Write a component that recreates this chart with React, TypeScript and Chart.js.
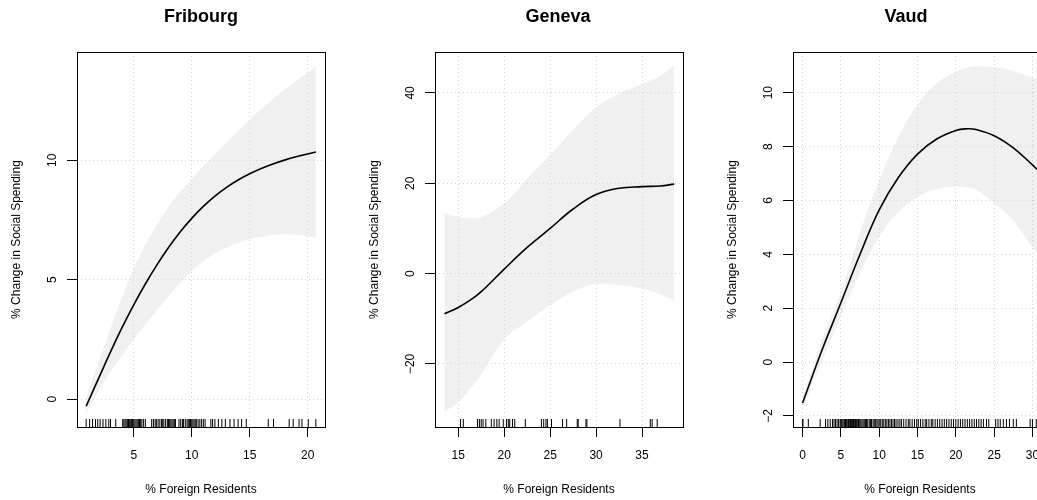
import React, { useEffect, useRef } from 'react';
import { Chart, registerables } from 'chart.js';

Chart.register(...registerables);
Chart.defaults.font.family = "'Liberation Sans', Arial, Helvetica, sans-serif";

// ---------------- Fribourg ----------------
const fribourgX = [0.9, 2, 3, 4, 5, 6, 7, 8, 9, 10, 11, 12, 13, 14, 15, 16, 17, 18, 19, 20, 20.7];
const fribourgFit = [-0.3, 0.9, 1.98, 3.0, 3.95, 4.82, 5.62, 6.35, 7.0, 7.57, 8.07, 8.5, 8.87, 9.18, 9.44, 9.66, 9.85, 10.01, 10.15, 10.27, 10.35];
const fribourgUpper = [0.0, 1.6, 2.95, 4.25, 5.45, 6.45, 7.3, 8.05, 8.67, 9.22, 9.75, 10.25, 10.75, 11.23, 11.7, 12.15, 12.57, 12.97, 13.33, 13.67, 13.95];
const fribourgLower = [-0.6, 0.35, 1.15, 1.85, 2.5, 3.12, 3.72, 4.3, 4.85, 5.35, 5.77, 6.1, 6.35, 6.55, 6.7, 6.8, 6.87, 6.9, 6.88, 6.82, 6.75];
const fribourgRug = [
  0.9, 1.2, 1.45, 1.7, 1.9, 2.1, 2.35, 2.6, 2.85, 3.0, 3.45,
  4.05, 4.15, 4.25, 4.35, 4.45, 4.55, 4.62, 4.7, 4.8, 4.9, 5.0, 5.1, 5.2, 5.3, 5.4, 5.5, 5.6, 5.7, 5.85, 6.0,
  6.55, 6.7, 6.85, 6.95, 7.1, 7.25, 7.4, 7.5, 7.6, 7.75, 7.9, 8.0, 8.1, 8.2, 8.3, 8.4, 8.5, 8.6,
  8.9, 9.05, 9.2, 9.3, 9.45, 9.6, 9.7, 9.8, 9.9, 10.0, 10.1, 10.2, 10.3, 10.4, 10.55, 10.7, 10.85, 11.0, 11.15,
  11.65, 11.8, 12.0, 12.3, 12.6, 12.9, 13.3,
  13.65, 14.0, 14.3, 14.7,
  16.6, 17.05, 18.4, 18.75, 19.25, 19.5, 20.05, 20.7,
];
const fribourgXTicks = [5, 10, 15, 20];
const fribourgYTicks = [0, 5, 10];

// ---------------- Geneva ----------------
const genevaX = [13.5, 15, 16.5, 17.5, 20, 22.5, 25, 27.5, 30, 32.5, 35, 37, 38.5];
const genevaFit = [-8.9, -7.5, -5.6, -4.0, 1.0, 5.8, 10.0, 14.3, 17.5, 18.9, 19.25, 19.4, 19.8];
const genevaUpper = [13.3, 12.6, 12.2, 12.5, 15.5, 21.0, 26.3, 31.8, 36.8, 39.8, 42.0, 43.8, 46.0];
const genevaLower = [-30.6, -28.5, -25.0, -22.3, -14.6, -10.6, -7.0, -4.0, -2.3, -2.5, -3.3, -4.6, -5.9];
const genevaRug = [
  15.25, 15.55, 17.1, 17.3, 17.5, 17.7, 18.0, 18.6, 18.9, 19.2, 19.45, 19.9, 20.25, 20.45, 20.6, 20.9, 21.15,
  22.3, 24.05, 24.3, 24.55, 24.7, 25.15, 26.35, 26.8, 27.95, 28.05, 28.9, 29.0, 32.6, 35.9, 36.1, 36.65,
];
const genevaXTicks = [15, 20, 25, 30, 35];
const genevaYTicks = [-20, 0, 20, 40];

// ---------------- Vaud ----------------
const vaudX = [0, 2.5, 5, 7.5, 10, 12.5, 15, 17.5, 20, 21.5, 22.5, 25, 27.5, 30, 30.6];
const vaudFit = [-1.52, 0.42, 2.2, 4.0, 5.65, 6.85, 7.72, 8.28, 8.6, 8.66, 8.64, 8.4, 7.95, 7.32, 7.15];
const vaudUpper = [-1.36, 0.8, 2.6, 4.8, 6.75, 8.35, 9.55, 10.35, 10.78, 10.92, 10.97, 10.95, 10.8, 10.55, 10.48];
const vaudLower = [-1.75, 0.0, 1.7, 3.3, 4.65, 5.58, 6.12, 6.42, 6.52, 6.48, 6.42, 5.9, 5.25, 4.25, 4.02];
const vaudRug = [
  0, 0.05, 0.75, 2.3, 3.0, 3.3, 3.6, 3.9, 4.1, 4.3, 4.5, 4.7, 4.9, 5.0, 5.1, 5.25, 5.4, 5.5, 5.6, 5.75, 5.9,
  6.0, 6.1, 6.25, 6.4, 6.5, 6.65, 6.8, 6.9, 7.05, 7.2, 7.3, 7.45, 7.6, 7.75, 7.9, 8.05, 8.2, 8.35, 8.5, 8.7,
  8.85, 9.0, 9.2, 9.35, 9.5, 9.7, 9.85, 10.0, 10.2, 10.4, 10.6, 10.8, 11.0, 11.2, 11.4, 11.6, 11.8, 12.0, 12.2,
  12.45, 12.7, 12.9, 13.2, 13.5, 13.8, 14.0, 14.3, 14.6, 14.9, 15.1, 15.4, 15.7, 16.0, 16.2, 16.5, 16.8, 17.0,
  17.3, 17.6, 17.9, 18.2, 18.5, 18.8, 19.1, 19.4, 19.7, 20.0, 20.3, 20.6, 20.9, 21.2, 21.5, 21.8, 22.1, 22.4,
  22.7, 23.0, 23.3, 23.6, 24.0, 24.3, 25.2, 25.5, 25.8, 26.2, 26.6, 27.0, 27.5, 27.9, 29.7, 30.0, 30.5,
];
const vaudXTicks = [0, 5, 10, 15, 20, 25, 30];
const vaudYTicks = [-2, 0, 2, 4, 6, 8, 10];

const X_TITLE = '% Foreign Residents';
const Y_TITLE = '% Change in Social Spending';
const BAND = '#f0f0f0';
const GRID = '#d3d3d3';

type Panel = {
  title: string;
  xs: number[];
  fit: number[];
  upper: number[];
  lower: number[];
  rug: number[];
  xTicks: number[];
  yTicks: number[];
  xMin: number;
  xMax: number;
  yMin: number;
  yMax: number;
  canvasX: number;
  canvasW: number;
  rightW: number;
  yPad: number;
};

const panels: Panel[] = [
  {
    title: 'Fribourg', xs: fribourgX, fit: fribourgFit, upper: fribourgUpper, lower: fribourgLower, rug: fribourgRug,
    xTicks: fribourgXTicks, yTicks: fribourgYTicks, xMin: 0.11, xMax: 21.49, yMin: -1.17, yMax: 14.54,
    canvasX: 0, canvasW: 402, rightW: 77, yPad: 8.0,
  },
  {
    title: 'Geneva', xs: genevaX, fit: genevaFit, upper: genevaUpper, lower: genevaLower, rug: genevaRug,
    xTicks: genevaXTicks, yTicks: genevaYTicks, xMin: 12.47, xMax: 39.46, yMin: -33.96, yMax: 49.06,
    canvasX: 358, canvasW: 400, rightW: 75, yPad: 4.6,
  },
  {
    title: 'Vaud', xs: vaudX, fit: vaudFit, upper: vaudUpper, lower: vaudLower, rug: vaudRug,
    xTicks: vaudXTicks, yTicks: vaudYTicks, xMin: -1.25, xMax: 31.9, yMin: -2.41, yMax: 11.51,
    canvasX: 716, canvasW: 380, rightW: 49, yPad: 7.9,
  },
];

const fmt = (v: number | string) => {
  const n = Number(v);
  return n < 0 ? '\u2212' + Math.abs(n) : String(n);
};

const boxPlugin = {
  id: 'rBox',
  afterDraw(chart: any) {
    const { ctx, chartArea: a } = chart;
    ctx.save();
    ctx.strokeStyle = '#000';
    ctx.lineWidth = 1;
    ctx.strokeRect(Math.round(a.left) + 0.5, Math.round(a.top) + 0.5, Math.round(a.right - a.left), Math.round(a.bottom - a.top));
    ctx.restore();
  },
};

function makeChart(canvas: HTMLCanvasElement, p: Panel) {
  const pts = (ys: number[]) => p.xs.map((x, i) => ({ x, y: ys[i] }));
  const tickFont = { size: 12 };
  const gridOpts = { color: GRID, lineWidth: 1, tickColor: '#000', tickLength: 10, tickWidth: 1, tickBorderDash: [] as number[] };
  return new Chart(canvas, {
    type: 'line',
    data: {
      datasets: [
        { data: pts(p.upper), borderWidth: 0, pointRadius: 0, fill: '+1', backgroundColor: BAND, tension: 0.4 },
        { data: pts(p.lower), borderWidth: 0, pointRadius: 0, fill: false, tension: 0.4 },
        { data: pts(p.fit), borderColor: '#000', borderWidth: 1.6, pointRadius: 0, fill: false, tension: 0.4 },
        {
          data: p.rug.map((x) => ({ x, y: p.yMin })),
          showLine: false, pointStyle: 'line', pointRotation: 90, pointRadius: 8,
          pointBorderWidth: 1, pointBorderColor: '#000', borderColor: '#000', clip: 0,
        },
      ] as any,
    },
    options: {
      responsive: false,
      animation: false,
      devicePixelRatio: 1,
      events: [],
      layout: { padding: 0 },
      plugins: {
        legend: { display: false },
        tooltip: { enabled: false },
        filler: { drawTime: 'beforeDraw' },
        title: {
          display: true, text: p.title, color: '#000',
          font: { size: 18, weight: 'bold' }, padding: { top: 6.2, bottom: 24.2 },
        },
      } as any,
      scales: {
        x: {
          type: 'linear', min: p.xMin, max: p.xMax,
          afterBuildTicks: (s: any) => { s.ticks = p.xTicks.map((value) => ({ value })); },
          afterFit: (s: any) => { s.height = 73; },
          grid: gridOpts,
          border: { display: false, dash: [1, 3] },
          ticks: { padding: 11.5, color: '#000', font: tickFont, maxRotation: 0, minRotation: 0, autoSkip: false, callback: fmt },
          title: { display: true, text: X_TITLE, color: '#000', font: { size: 12 }, padding: { top: 0, bottom: 2.8 } },
        },
        y: {
          type: 'linear', min: p.yMin, max: p.yMax,
          afterBuildTicks: (s: any) => { s.ticks = p.yTicks.map((value) => ({ value })); },
          afterFit: (s: any) => { s.width = 77; },
          grid: gridOpts,
          border: { display: false, dash: [1, 3] },
          ticks: { padding: p.yPad, color: '#000', font: tickFont, minRotation: 90, maxRotation: 90, crossAlign: 'center', autoSkip: false, callback: fmt },
          title: { display: true, text: Y_TITLE, color: '#000', font: { size: 12 }, padding: { top: 9.5, bottom: 0 } },
        },
        // empty right margin (R's right plot margin), keeps the title centred over the plot box
        yr: {
          type: 'linear', position: 'right', display: true,
          afterFit: (s: any) => { s.width = p.rightW; },
          grid: { display: false, drawTicks: false },
          border: { display: false },
          ticks: { display: false },
        },
      } as any,
    },
    plugins: [boxPlugin],
  });
}

function PanelChart({ panel }: { panel: Panel }) {
  const ref = useRef<HTMLCanvasElement>(null);
  useEffect(() => {
    if (!ref.current) return;
    const chart = makeChart(ref.current, panel);
    return () => chart.destroy();
  }, [panel]);
  return (
    <canvas
      ref={ref}
      width={panel.canvasW}
      height={500}
      style={{ position: 'absolute', left: panel.canvasX, top: 0, width: panel.canvasW, height: 500 }}
    />
  );
}

export default function App() {
  return (
    <div style={{ position: 'fixed', left: 0, top: 0, width: 1037, height: 500, overflow: 'hidden', background: '#fff' }}>
      {panels.map((p) => (
        <PanelChart key={p.title} panel={p} />
      ))}
    </div>
  );
}
